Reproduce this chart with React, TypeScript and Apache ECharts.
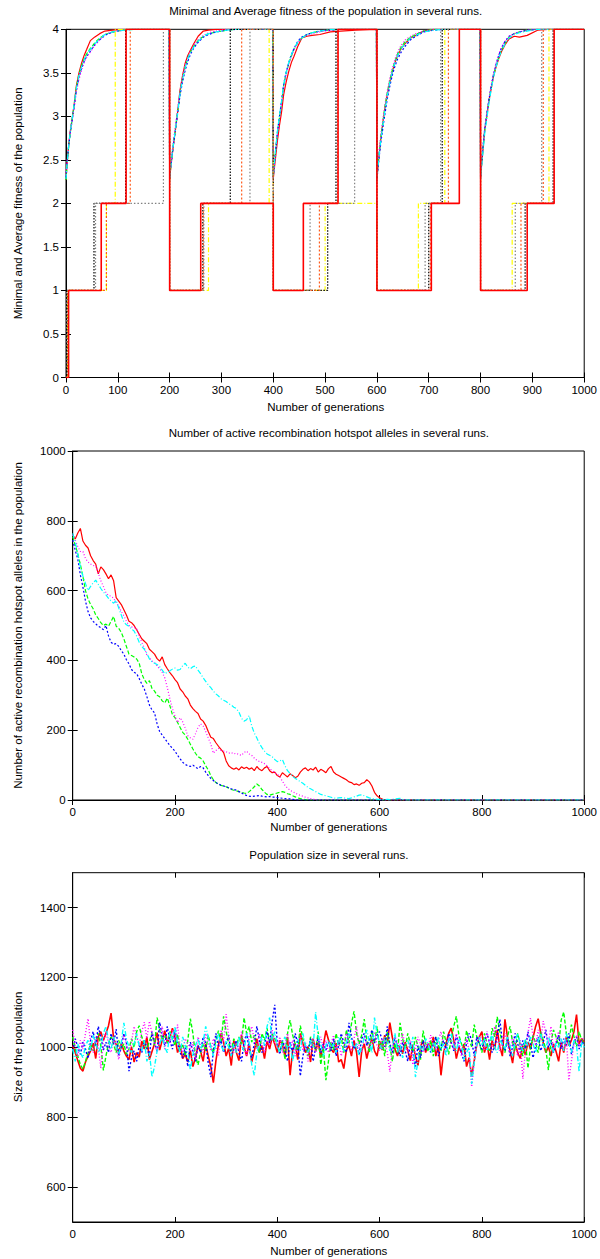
import React, { useEffect, useRef } from 'react';
import * as echarts from 'echarts';

const FONT = '"Liberation Sans", Arial, Helvetica, sans-serif';
const FS = 11.5;

// ---------- Panel 1: Minimal and average fitness ----------
const AVG_GENS = [
  0, 2, 5, 8, 12, 16, 20, 25, 30, 35, 40, 47, 55, 65, 75, 90, 110, 130, 160, 199,
  200, 202, 205, 208, 212, 216, 220, 225, 230, 235, 240, 247, 255, 265, 275, 290, 310, 330, 360, 399,
  400, 402, 405, 408, 412, 416, 420, 425, 430, 435, 440, 447, 455, 465, 475, 490, 510, 530, 560, 599,
  600, 602, 605, 608, 612, 616, 620, 625, 630, 635, 640, 647, 655, 665, 675, 690, 710, 730, 760, 799,
  800, 802, 805, 808, 812, 816, 820, 825, 830, 835, 840, 847, 855, 865, 875, 890, 910, 930, 960, 1000,
];

const AVG_RED = [
  2.27, 2.45, 2.66, 2.82, 2.98, 3.15, 3.35, 3.5, 3.61, 3.7, 3.77, 3.87, 3.91, 3.95, 3.98, 3.99, 4, 4, 4, 4,
  2.27, 2.4, 2.56, 2.7, 2.88, 3.08, 3.3, 3.47, 3.61, 3.7, 3.76, 3.84, 3.92, 3.98, 3.99, 4, 4, 4, 4, 4,
  2.28, 2.4, 2.56, 2.72, 2.9, 3.05, 3.25, 3.4, 3.52, 3.62, 3.69, 3.8, 3.9, 3.92, 3.93, 3.94, 3.97, 3.98, 3.99, 4,
  2.29, 2.42, 2.6, 2.77, 2.95, 3.12, 3.25, 3.4, 3.52, 3.62, 3.7, 3.78, 3.84, 3.9, 3.93, 3.98, 4, 4, 4, 4,
  2.29, 2.44, 2.64, 2.84, 3.0, 3.17, 3.3, 3.46, 3.57, 3.66, 3.74, 3.82, 3.89, 3.92, 3.91, 3.93, 3.99, 4, 4, 4,
];
const AVG_GREEN = [
  2.27, 2.44, 2.64, 2.8, 2.97, 3.14, 3.33, 3.48, 3.58, 3.66, 3.72, 3.78, 3.84, 3.9, 3.94, 3.97, 3.99, 4, 4, 4,
  2.28, 2.42, 2.58, 2.72, 2.9, 3.08, 3.27, 3.44, 3.57, 3.67, 3.74, 3.81, 3.87, 3.92, 3.95, 3.97, 3.99, 4, 4, 4,
  2.31, 2.46, 2.64, 2.81, 2.99, 3.16, 3.35, 3.5, 3.61, 3.7, 3.77, 3.85, 3.9, 3.94, 3.96, 3.98, 3.99, 4, 4, 4,
  2.29, 2.44, 2.62, 2.78, 2.96, 3.13, 3.27, 3.42, 3.54, 3.64, 3.72, 3.8, 3.86, 3.91, 3.94, 3.98, 4, 4, 4, 4,
  2.3, 2.45, 2.65, 2.84, 3.01, 3.17, 3.31, 3.47, 3.58, 3.68, 3.76, 3.84, 3.91, 3.95, 3.97, 3.99, 4, 4, 4, 4,
];
const AVG_BLUE = [
  2.3, 2.46, 2.65, 2.8, 2.96, 3.12, 3.3, 3.45, 3.55, 3.63, 3.69, 3.75, 3.82, 3.88, 3.93, 3.97, 3.99, 4, 4, 4,
  2.29, 2.41, 2.56, 2.7, 2.88, 3.06, 3.24, 3.4, 3.53, 3.63, 3.71, 3.79, 3.85, 3.91, 3.94, 3.97, 3.99, 4, 4, 4,
  2.3, 2.45, 2.64, 2.82, 3.0, 3.18, 3.37, 3.51, 3.62, 3.71, 3.78, 3.86, 3.91, 3.94, 3.96, 3.98, 3.99, 4, 4, 4,
  2.27, 2.4, 2.57, 2.72, 2.89, 3.05, 3.2, 3.35, 3.48, 3.58, 3.66, 3.74, 3.81, 3.88, 3.92, 3.97, 3.99, 4, 4, 4,
  2.31, 2.47, 2.67, 2.86, 3.03, 3.19, 3.33, 3.48, 3.6, 3.7, 3.78, 3.86, 3.92, 3.95, 3.97, 3.99, 4, 4, 4, 4,
];
const AVG_MAGENTA = [
  2.32, 2.48, 2.66, 2.81, 2.96, 3.11, 3.28, 3.42, 3.53, 3.62, 3.68, 3.74, 3.81, 3.88, 3.94, 3.97, 3.99, 4, 4, 4,
  2.3, 2.44, 2.6, 2.75, 2.93, 3.11, 3.3, 3.46, 3.59, 3.68, 3.75, 3.82, 3.88, 3.93, 3.96, 3.98, 4, 4, 4, 4,
  2.29, 2.43, 2.62, 2.79, 2.97, 3.15, 3.33, 3.48, 3.6, 3.69, 3.76, 3.84, 3.9, 3.93, 3.95, 3.97, 3.99, 4, 4, 4,
  2.31, 2.47, 2.65, 2.81, 2.98, 3.15, 3.29, 3.44, 3.56, 3.66, 3.74, 3.82, 3.88, 3.92, 3.95, 3.98, 4, 4, 4, 4,
  2.29, 2.45, 2.66, 2.85, 3.02, 3.19, 3.34, 3.49, 3.61, 3.71, 3.79, 3.86, 3.92, 3.95, 3.97, 3.99, 4, 4, 4, 4,
];
const AVG_CYAN = [
  2.28, 2.45, 2.65, 2.81, 2.98, 3.15, 3.32, 3.47, 3.57, 3.65, 3.71, 3.77, 3.83, 3.89, 3.94, 3.97, 3.99, 4, 4, 4,
  2.28, 2.41, 2.57, 2.71, 2.89, 3.07, 3.26, 3.43, 3.56, 3.66, 3.73, 3.8, 3.86, 3.92, 3.95, 3.97, 3.99, 4, 4, 4,
  2.3, 2.46, 2.65, 2.83, 3.01, 3.18, 3.36, 3.51, 3.62, 3.71, 3.78, 3.85, 3.9, 3.94, 3.96, 3.98, 4, 4, 4, 4,
  2.28, 2.42, 2.59, 2.75, 2.92, 3.09, 3.24, 3.39, 3.52, 3.62, 3.7, 3.78, 3.84, 3.9, 3.93, 3.97, 3.99, 4, 4, 4,
  2.27, 2.42, 2.61, 2.8, 2.97, 3.14, 3.29, 3.45, 3.57, 3.67, 3.75, 3.83, 3.9, 3.94, 3.96, 3.98, 4, 4, 4, 4,
];

// minimal fitness: generation where a level starts, and that level
const MIN_YELLOW_GENS = [0, 3, 78, 95, 200, 275, 392, 400, 500, 600, 680, 731, 800, 861, 932, 1000];
const MIN_YELLOW_VALS = [0, 1, 2, 4, 1, 2, 4, 1, 2, 1, 2, 4, 1, 2, 4, 4];
const MIN_BLACK_GENS = [0, 2, 54, 115, 200, 264, 317, 400, 505, 521, 600, 700, 726, 800, 886, 940, 1000];
const MIN_BLACK_VALS = [0, 1, 2, 4, 1, 2, 4, 1, 2, 4, 1, 2, 4, 1, 2, 4, 4];
const MIN_ORANGE_GENS = [0, 4, 78, 124, 200, 265, 339, 400, 489, 524, 600, 703, 738, 800, 878, 921, 1000];
const MIN_ORANGE_VALS = [0, 1, 2, 4, 1, 2, 4, 1, 2, 4, 1, 2, 4, 1, 2, 4, 4];
const MIN_GRAY_GENS = [0, 1, 57, 188, 200, 266, 355, 400, 471, 557, 600, 693, 723, 800, 867, 918, 1000];
const MIN_GRAY_VALS = [0, 1, 2, 4, 1, 2, 4, 1, 2, 4, 1, 2, 4, 1, 2, 4, 4];
const MIN_RED_GENS = [0, 5, 68, 116, 200, 260, 400, 458, 525, 600, 705, 759, 800, 890, 942, 1000];
const MIN_RED_VALS = [0, 1, 2, 4, 1, 2, 1, 2, 4, 1, 2, 4, 1, 2, 4, 4];

// ---------- Panel 2: active recombination hotspot alleles (every 5 generations) ----------
const HOT_RED = [
  760, 748, 765, 778, 742, 730, 722, 700, 686, 676, 648, 668, 660, 648, 634, 645, 628, 580, 570, 560,
  545, 530, 512, 508, 500, 488, 475, 462, 455, 448, 432, 425, 418, 405, 398, 410, 388, 376, 365, 356,
  345, 336, 318, 310, 298, 290, 272, 262, 254, 248, 232, 226, 214, 196, 180, 176, 164, 154, 145, 136,
  112, 98, 92, 88, 92, 86, 95, 90, 94, 88, 92, 84, 96, 88, 84, 92, 96, 84, 78, 80,
  70, 66, 78, 72, 66, 75, 70, 64, 68, 80, 88, 92, 84, 90, 86, 94, 80, 88, 84, 78,
  90, 96, 80, 74, 70, 66, 62, 58, 52, 50, 44, 46, 42, 48, 50, 58, 52, 40, 22, 12,
  6, 3, 0,
];
const HOT_GREEN = [
  755, 730, 705, 675, 640, 600, 576, 560, 548, 530, 520, 508, 500, 504, 498, 512, 526, 498, 492, 480,
  462, 440, 418, 414, 410, 404, 392, 362, 345, 334, 342, 320, 312, 300, 296, 284, 278, 292, 270, 244,
  236, 222, 208, 194, 186, 174, 160, 146, 134, 124, 120, 112, 98, 86, 70, 58, 50, 45, 42, 40,
  38, 34, 30, 28, 26, 24, 22, 20, 19, 24, 30, 38, 46, 40, 30, 22, 16, 14, 16, 18,
  20, 22, 24, 22, 18, 16, 12, 9, 6, 4, 2, 1, 0,
];
const HOT_BLUE = [
  745, 715, 690, 645, 610, 570, 540, 522, 512, 505, 498, 494, 488, 500, 470, 452, 446, 448, 440, 428,
  418, 402, 390, 374, 366, 362, 348, 332, 318, 296, 272, 258, 250, 218, 196, 186, 176, 166, 156, 148,
  140, 128, 118, 108, 102, 98, 96, 100, 94, 90, 96, 92, 80, 70, 62, 56, 50, 46, 42, 40,
  38, 35, 32, 30, 28, 24, 20, 16, 13, 11, 10, 11, 12, 13, 11, 10, 9, 10, 8, 8,
  7, 6, 5, 4, 3, 3, 2, 1, 0,
];
const HOT_MAGENTA = [
  760, 745, 726, 712, 712, 692, 682, 676, 672, 670, 650, 628, 612, 594, 586, 584, 578, 565, 556, 540,
  528, 512, 500, 496, 494, 492, 470, 452, 436, 415, 408, 398, 394, 384, 376, 366, 350, 322, 290, 262,
  240, 222, 236, 224, 206, 184, 178, 174, 190, 208, 218, 212, 196, 178, 160, 134, 142, 148, 142, 140,
  138, 134, 136, 132, 134, 130, 128, 136, 140, 132, 128, 120, 114, 110, 108, 104, 98, 90, 84, 78,
  74, 66, 54, 42, 34, 28, 24, 20, 16, 13, 11, 8, 6, 4, 2, 1, 0,
];
const HOT_CYAN = [
  764, 740, 705, 668, 642, 620, 600, 612, 622, 630, 618, 606, 596, 588, 578, 570, 564, 572, 550, 530,
  510, 502, 498, 490, 484, 470, 452, 440, 432, 420, 404, 396, 392, 388, 382, 372, 362, 366, 370, 375,
  378, 372, 374, 385, 392, 380, 376, 382, 384, 372, 362, 350, 340, 330, 322, 312, 304, 298, 290, 286,
  282, 276, 272, 266, 262, 252, 234, 226, 230, 242, 212, 192, 178, 162, 150, 140, 132, 128, 124, 116,
  110, 112, 116, 98, 84, 76, 68, 62, 58, 52, 48, 42, 36, 32, 28, 24, 20, 16, 14, 12,
  10, 8, 6, 5, 6, 7, 6, 5, 4, 6, 9, 11, 14, 15, 12, 9, 6, 4, 3, 2,
  2, 1, 1, 2, 1, 2, 3, 4, 5, 2, 0,
];

// ---------- Panel 3: population size (every 5 generations, 0..1000) ----------
const POP_RED = [
  1005, 985, 962, 940, 932, 958, 975, 990, 1012, 968, 1030, 1045, 1020, 1040, 1062, 1098, 1025, 1008, 985, 1012,
  990, 975, 965, 1002, 958, 985, 972, 1018, 995, 1030, 965, 988, 1010, 1042, 992, 1020, 1048, 1012, 1030, 1055,
  1028, 985, 1005, 968, 980, 958, 992, 945, 970, 1005, 988, 960, 1010, 975, 945, 899, 962, 1008, 1040, 1015,
  975, 998, 948, 1020, 985, 962, 1035, 1002, 975, 1012, 958, 990, 1025, 985, 1005, 968, 1018, 995, 1030, 1010,
  985, 1020, 1008, 975, 1030, 920, 992, 1010, 965, 1040, 1012, 985, 1002, 958, 1025, 990, 1015, 972, 1005, 1048,
  1022, 995, 985, 1012, 958, 965, 939, 992, 1005, 975, 1020, 985, 915, 990, 1010, 968, 1002, 1025, 990, 975,
  1018, 992, 1035, 1010, 1071, 1028, 995, 975, 1005, 982, 1015, 992, 962, 1008, 975, 948, 1002, 1020, 985, 1010,
  998, 1030, 975, 1005, 920, 985, 1012, 1040, 1055, 1020, 968, 1000, 985, 1010, 945, 970, 917, 962, 1008, 1030,
  1045, 985, 1010, 965, 1020, 995, 1050, 1002, 975, 1080, 1030, 990, 955, 1012, 985, 968, 1005, 978, 1015, 995,
  1028, 1060, 1082, 1040, 1012, 985, 1002, 975, 1010, 988, 960, 1015, 985, 1030, 1005, 1020, 1045, 1094, 1010, 1025,
  1015,
];
const POP_GREEN = [
  1030, 995, 975, 950, 938, 960, 985, 1010, 990, 1015, 1040, 1005, 934, 975, 1012, 1030, 1008, 985, 1020, 995,
  1010, 980, 995, 1025, 1000, 1045, 1062, 1030, 1012, 995, 1018, 1040, 1005, 1085, 1050, 1020, 1035, 1012, 1045, 1028,
  1005, 1038, 990, 1010, 975, 1020, 1082, 1040, 975, 950, 985, 1012, 990, 1035, 1002, 985, 1020, 1048, 1010, 1089,
  1045, 1012, 990, 1025, 1005, 1030, 1010, 1085, 1040, 1060, 1015, 1035, 1002, 985, 1040, 1020, 1055, 1012, 1038, 1025,
  1005, 985, 1020, 965, 1040, 1078, 1035, 1010, 990, 1062, 1025, 1005, 975, 1030, 1012, 990, 1045, 950, 1000, 906,
  960, 1015, 992, 1040, 1005, 1030, 985, 1050, 1012, 1068, 1103, 1040, 1010, 1035, 1081, 1020, 985, 1048, 1012, 1060,
  995, 1020, 975, 1045, 1005, 960, 1012, 985, 1070, 1025, 995, 1040, 1010, 985, 1030, 1002, 965, 1048, 1012, 988,
  1020, 975, 1030, 1005, 990, 1045, 1015, 980, 1025, 1060, 1089, 1035, 1010, 992, 1048, 1020, 1002, 1065, 1030, 1012,
  985, 1040, 1012, 990, 1055, 1030, 1087, 1045, 1010, 985, 1030, 1060, 1015, 990, 1040, 1005, 975, 1020, 940, 1000,
  1035, 1012, 985, 1045, 1020, 995, 935, 1015, 1050, 1030, 1005, 1078, 1101, 1040, 1010, 1065, 1030, 1002, 1045, 1020,
  1010,
];
const POP_BLUE = [
  990, 1025, 1000, 980, 1015, 995, 968, 1020, 1045, 1005, 1060, 1030, 992, 1015, 985, 1040, 1010, 1052, 975, 1000,
  1040, 1015, 932, 970, 990, 960, 1005, 985, 1020, 1000, 975, 1045, 1012, 990, 1072, 1035, 1005, 1060, 1020, 995,
  1050, 1010, 985, 970, 1000, 945, 1015, 990, 960, 1005, 985, 1030, 1012, 955, 915, 990, 1040, 1005, 1020, 985,
  1010, 1035, 975, 1000, 1020, 985, 960, 1015, 1040, 995, 970, 1010, 1060, 1020, 985, 1005, 1045, 1012, 1075, 1122,
  1010, 980, 1020, 995, 960, 1015, 985, 1040, 1010, 918, 975, 1005, 990, 1025, 960, 1000, 1030, 985, 1010, 992,
  1015, 990, 1025, 975, 1005, 1040, 1012, 985, 1070, 1030, 995, 1010, 980, 1025, 1040, 1005, 1020, 1050, 1012, 1035,
  1045, 1020, 1002, 1060, 1010, 985, 1030, 1000, 975, 1015, 990, 960, 1012, 985, 945, 1005, 970, 1020, 992, 1010,
  985, 1010, 1030, 975, 1000, 1020, 995, 1040, 1015, 990, 1035, 1005, 985, 960, 1012, 1040, 1020, 975, 1030, 1010,
  995, 1020, 1040, 1012, 985, 1005, 1030, 1080, 1015, 990, 1025, 975, 1000, 1040, 1010, 985, 1020, 995, 1045, 1010,
  970, 1005, 1030, 990, 1015, 1050, 1000, 1020, 985, 1010, 1035, 995, 1025, 1005, 1040, 980, 1015, 1030, 995, 1020,
  1005,
];
const POP_MAGENTA = [
  1050, 1005, 975, 1020, 995, 1040, 1082, 1010, 985, 1030, 1005, 940, 1020, 1045, 1010, 985, 1025, 1000, 965, 1010,
  1035, 1005, 990, 1015, 1060, 1030, 1005, 1045, 1072, 1025, 1075, 1040, 1012, 985, 1020, 1060, 995, 1030, 1010, 1050,
  1020, 1065, 1000, 985, 1025, 1010, 990, 1015, 965, 1030, 1005, 985, 1040, 1012, 990, 1025, 1000, 975, 1050, 1015,
  1095, 1030, 1005, 985, 1015, 990, 1045, 1010, 975, 1030, 1060, 1020, 995, 1040, 1010, 985, 1025, 1005, 1050, 1015,
  1000, 1030, 985, 1010, 1040, 995, 1020, 975, 1005, 1035, 990, 1015, 960, 1000, 1025, 985, 1010, 1030, 995, 1020,
  985, 1010, 1035, 995, 1020, 975, 1005, 1040, 1012, 990, 1025, 1060, 1000, 985, 1030, 1010, 995, 1020, 1045, 1005,
  990, 1025, 1010, 985, 930, 1000, 1030, 1015, 990, 1040, 1005, 985, 1020, 950, 995, 1030, 1010, 985, 1015, 1000,
  1035, 1010, 990, 1020, 1045, 1005, 985, 1030, 1010, 995, 1040, 1015, 975, 1000, 1025, 990, 887, 960, 1010, 1035,
  1020, 990, 1045, 1010, 1000, 1060, 1025, 990, 1015, 1040, 1005, 985, 1030, 1010, 975, 1020, 910, 990, 1040, 1084,
  1030, 1005, 1050, 1020, 1075, 1040, 1010, 1060, 985, 1020, 1045, 1005, 990, 1030, 906, 960, 1010, 1035, 1000, 1020,
  1030,
];
const POP_CYAN = [
  995, 960, 1010, 985, 970, 1005, 1020, 990, 1035, 1015, 985, 1000, 1040, 1060, 1020, 995, 1030, 1005, 980, 1015,
  1070, 1025, 1000, 985, 1010, 1040, 1005, 990, 1020, 960, 985, 915, 945, 990, 1010, 1030, 1000, 985, 1045, 1020,
  1060, 1010, 985, 1030, 1005, 990, 935, 980, 1005, 1025, 995, 1015, 1060, 1030, 1000, 975, 1010, 1040, 1005, 990,
  1020, 1000, 975, 1010, 985, 1030, 1005, 990, 1040, 1015, 950, 920, 985, 1010, 1030, 1005, 1060, 1085, 1020, 1045,
  1005, 985, 1015, 1030, 995, 1010, 960, 1000, 1025, 990, 1040, 1005, 985, 1020, 1000, 1101, 1030, 1010, 975, 1005,
  1020, 995, 1010, 985, 1030, 1005, 990, 1015, 1040, 1020, 995, 1010, 975, 1000, 1030, 1050, 1015, 985, 1085, 1040,
  1010, 995, 1030, 1015, 990, 1005, 1040, 985, 1010, 970, 1000, 1020, 995, 1030, 915, 960, 1005, 990, 1025, 1010,
  985, 1015, 1000, 1030, 995, 1010, 975, 1020, 1040, 1005, 990, 1025, 1010, 965, 985, 1000, 895, 955, 1010, 1030,
  1005, 1025, 990, 1015, 1040, 1000, 985, 1020, 1010, 995, 1030, 1005, 975, 1015, 1040, 1010, 990, 1025, 1005, 1030,
  1010, 985, 1020, 1040, 1005, 995, 1030, 1010, 985, 1015, 1000, 1025, 990, 1040, 1010, 985, 1020, 1005, 930, 1015,
  1000,
];

const STEP = 5; // sampling step in generations for panels 2 and 3

// ---------- helpers ----------
const pairs = (xs: number[], ys: number[]) => ys.map((y, i) => [xs[i], y]);
const sampled = (ys: number[]) => ys.map((y, i) => [i * STEP, y]);
const withTail = (d: number[][]) => d.concat([[1000, 0]]);

const C = {
  red: '#ff0000', green: '#00ff00', blue: '#0000ff', magenta: '#ff00ff', cyan: '#00ffff',
  yellow: '#ffff00', black: '#000000', orange: '#ff5a1a', gray: '#808080',
};
const DASH = {
  solid: 'solid' as any,
  dashed: [4, 2],
  short: [2, 2],
  dotted: [1, 2],
  dashdot: [5, 2, 1, 2],
};

const lineSeries = (
  name: string, data: number[][], color: string, type: any, width: number, gi: number, step?: string,
) => ({
  name, type: 'line', data, xAxisIndex: gi * 2, yAxisIndex: gi * 2,
  showSymbol: false, symbol: 'none', silent: true, step: step || false,
  lineStyle: { color, width, type },
  emphasis: { disabled: true },
});

const plain = (v: number) => String(v);
const tickLabel = { color: '#000', fontSize: FS, fontFamily: FONT, formatter: plain };

const xAxes = (gi: number, interval: number) => [
  {
    type: 'value', gridIndex: gi, min: 0, max: 1000, interval, position: 'bottom',
    axisLine: { show: true, onZero: false, lineStyle: { color: '#000', width: 1 } },
    axisTick: { show: true, inside: true, length: 5, lineStyle: { color: '#000' } },
    axisLabel: { ...tickLabel, margin: 6 },
    splitLine: { show: false },
  },
  {
    type: 'value', gridIndex: gi, min: 0, max: 1000, interval, position: 'top',
    axisLine: { show: false },
    axisTick: { show: true, inside: true, length: 5, lineStyle: { color: '#000' } },
    axisLabel: { show: false },
    splitLine: { show: false },
  },
];

const yAxes = (gi: number, min: number, max: number, interval?: number, custom?: number[]) => {
  const base: any = { type: 'value', gridIndex: gi, min, max, splitLine: { show: false } };
  if (interval) base.interval = interval;
  const tick: any = { show: true, inside: true, length: 5, lineStyle: { color: '#000' } };
  const lab: any = { ...tickLabel, margin: 7 };
  if (custom) { tick.customValues = custom; lab.customValues = custom; }
  return [
    { ...base, position: 'left', axisLine: { show: true, onZero: false, lineStyle: { color: '#000', width: 1 } }, axisTick: tick, axisLabel: lab },
    { ...base, position: 'right', axisLine: { show: false }, axisTick: { ...tick }, axisLabel: { show: false } },
  ];
};

const txt = (text: string, x: number, y: number, rotate = false) => ({
  type: 'text', x, y, rotation: rotate ? Math.PI / 2 : 0, silent: true,
  style: {
    text, fill: '#000', font: `${FS}px ${FONT}`,
    align: 'center', verticalAlign: 'middle', textAlign: 'center', textVerticalAlign: 'middle',
  },
});

const G1 = { left: 66, top: 29.3, width: 519.5, height: 348.2 };
const G2 = { left: 72.7, top: 451, width: 512.1, height: 349 };
const G3 = { left: 72.7, top: 872.7, width: 512.1, height: 349.3 };

const buildOption = () => ({
  animation: false,
  backgroundColor: '#fff',
  grid: [G1, G2, G3].map((g) => ({ ...g, show: true, borderColor: '#000', borderWidth: 1, backgroundColor: 'transparent', containLabel: false })),
  xAxis: [...xAxes(0, 100), ...xAxes(1, 200), ...xAxes(2, 200)],
  yAxis: [...yAxes(0, 0, 4, 0.5), ...yAxes(1, 0, 1000, 200), ...yAxes(2, 500, 1500, undefined, [600, 800, 1000, 1200, 1400])],
  graphic: [
    txt('Minimal and Average fitness of the population in several runs.', 325.7, 11.3),
    txt('Number of generations', 325.7, 407),
    txt('Minimal and Average fitness of the population', 18, 203.4, true),
    txt('Number of active recombination hotspot alleles in several runs.', 328.8, 433),
    txt('Number of generations', 328.8, 826.5),
    txt('Number of active recombination hotspot alleles in the population', 18.4, 625.5, true),
    txt('Population size in several runs.', 328.8, 855),
    txt('Number of generations', 328.8, 1250.7),
    txt('Size of the population', 17.5, 1047, true),
  ],
  series: [
    // panel 1 averages
    lineSeries('avg run 1', pairs(AVG_GENS, AVG_RED), C.red, DASH.solid, 1.2, 0),
    lineSeries('avg run 2', pairs(AVG_GENS, AVG_GREEN), C.green, DASH.dashed, 1.2, 0),
    lineSeries('avg run 3', pairs(AVG_GENS, AVG_BLUE), C.blue, DASH.short, 1.2, 0),
    lineSeries('avg run 4', pairs(AVG_GENS, AVG_MAGENTA), C.magenta, DASH.dotted, 1.2, 0),
    lineSeries('avg run 5', pairs(AVG_GENS, AVG_CYAN), C.cyan, DASH.dashdot, 1.2, 0),
    // panel 1 minimal
    lineSeries('min run 1', pairs(MIN_YELLOW_GENS, MIN_YELLOW_VALS), C.yellow, DASH.dashdot, 1.2, 0, 'end'),
    lineSeries('min run 2', pairs(MIN_BLACK_GENS, MIN_BLACK_VALS), C.black, [1.5, 1.5], 1.2, 0, 'end'),
    lineSeries('min run 3', pairs(MIN_ORANGE_GENS, MIN_ORANGE_VALS), C.orange, DASH.short, 1.2, 0, 'end'),
    lineSeries('min run 4', pairs(MIN_GRAY_GENS, MIN_GRAY_VALS), C.gray, [1.5, 2], 1.2, 0, 'end'),
    lineSeries('min run 5', pairs(MIN_RED_GENS, MIN_RED_VALS), C.red, DASH.solid, 1.6, 0, 'end'),
    // panel 2
    lineSeries('hot 1', withTail(sampled(HOT_RED)), C.red, DASH.solid, 1.2, 1),
    lineSeries('hot 2', withTail(sampled(HOT_GREEN)), C.green, DASH.dashed, 1.2, 1),
    lineSeries('hot 3', withTail(sampled(HOT_BLUE)), C.blue, DASH.short, 1.2, 1),
    lineSeries('hot 4', withTail(sampled(HOT_MAGENTA)), C.magenta, DASH.dotted, 1.2, 1),
    lineSeries('hot 5', withTail(sampled(HOT_CYAN)), C.cyan, DASH.dashdot, 1.2, 1),
    // panel 3
    lineSeries('pop 1', sampled(POP_RED), C.red, DASH.solid, 1.6, 2),
    lineSeries('pop 2', sampled(POP_GREEN), C.green, DASH.dashed, 1.4, 2),
    lineSeries('pop 3', sampled(POP_BLUE), C.blue, DASH.short, 1.4, 2),
    lineSeries('pop 4', sampled(POP_MAGENTA), C.magenta, DASH.dotted, 1.4, 2),
    lineSeries('pop 5', sampled(POP_CYAN), C.cyan, DASH.dashdot, 1.4, 2),
  ],
});

export default function App() {
  const ref = useRef<HTMLDivElement>(null);
  useEffect(() => {
    document.body.style.margin = '0';
    const chart = echarts.init(ref.current as HTMLDivElement, null, { renderer: 'svg' });
    chart.setOption(buildOption() as any);
    return () => chart.dispose();
  }, []);
  return <div ref={ref} style={{ width: 600, height: 1259 }} />;
}
